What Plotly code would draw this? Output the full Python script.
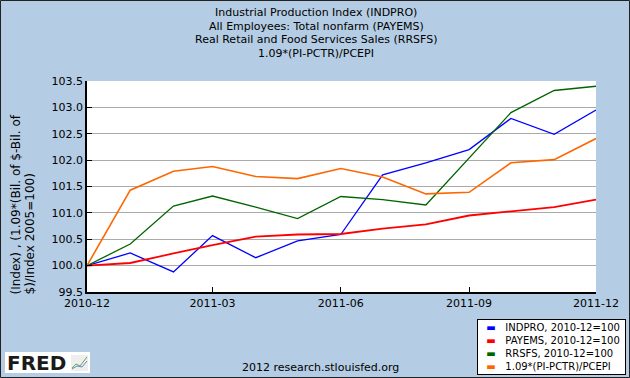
import plotly.graph_objects as go

# ---- data ----
months = ["2010-12-01", "2011-01-01", "2011-02-01", "2011-03-01", "2011-04-01",
          "2011-05-01", "2011-06-01", "2011-07-01", "2011-08-01", "2011-09-01",
          "2011-10-01", "2011-11-01", "2011-12-01"]
indpro = [100.0, 100.24, 99.88, 100.57, 100.15, 100.47, 100.59, 101.72, 101.95,
          102.20, 102.79, 102.49, 102.95]
payems = [100.0, 100.05, 100.23, 100.39, 100.55, 100.59, 100.60, 100.70, 100.78,
          100.95, 101.03, 101.11, 101.25]
rrsfs = [100.0, 100.41, 101.13, 101.32, 101.11, 100.89, 101.31, 101.25, 101.15,
         102.04, 102.90, 103.32, 103.40]
pi_real = [100.0, 101.43, 101.79, 101.88, 101.69, 101.65, 101.84, 101.68, 101.36,
           101.39, 101.95, 102.01, 102.41]

series_names = ["INDPRO, 2010-12=100", "PAYEMS, 2010-12=100",
                "RRSFS, 2010-12=100", "1.09*(PI-PCTR)/PCEPI"]
series_values = [indpro, payems, rrsfs, pi_real]
series_colors = ["#0000ff", "#ff0000", "#006400", "#ff6600"]
series_widths = [1.3, 1.8, 1.3, 1.6]

tick_dates = ["2010-12-01", "2011-03-01", "2011-06-01", "2011-09-01", "2011-12-01"]
tick_labels = ["2010-12", "2011-03", "2011-06", "2011-09", "2011-12"]
y_ticks = [99.5, 100.0, 100.5, 101.0, 101.5, 102.0, 102.5, 103.0, 103.5]

title_lines = ["Industrial Production Index (INDPRO)",
               "All Employees: Total nonfarm (PAYEMS)",
               "Real Retail and Food Services Sales (RRSFS)",
               "1.09*(PI-PCTR)/PCEPI"]
ylabel_lines = ["(Index) , (1.09*(Bil. of $-Bil. of", "$)/Index 2005=100)"]
footer = "2012 research.stlouisfed.org"

# ---- layout geometry ----
W, H = 630, 378
L, R, T, B = 87, 34, 81, 86
PW, PH = W - L - R, H - T - B
BG = "#b4cde4"
FONT = "DejaVu Sans"


def px(x):
    return (x - L) / PW


def py(y):
    return (H - B - y) / PH


fig = go.Figure()
for name, vals, col, w in zip(series_names, series_values, series_colors, series_widths):
    fig.add_trace(go.Scatter(x=months, y=vals, mode="lines", name=name,
                             line=dict(color=col, width=w), showlegend=False))

annotations = []
# title lines
for i, line in enumerate(title_lines):
    annotations.append(dict(text=line, xref="paper", yref="paper",
                            x=px(316), y=py(12.5 + 13.7 * i), xanchor="center",
                            yanchor="middle", showarrow=False,
                            font=dict(family=FONT, size=11, color="black")))
# legend (custom box)
legend_rows = [f"&nbsp;&nbsp;<span style='color:{c}'>▬</span>&nbsp;&nbsp;&nbsp;{n}"
               for n, c in zip(series_names, series_colors)]
legend_rows[0] += "&nbsp;"
annotations.append(dict(text="<br>".join(legend_rows), xref="paper", yref="paper",
                        x=px(477), y=py(318.5), xanchor="left", yanchor="top",
                        align="left", showarrow=False, bgcolor="white",
                        bordercolor="black", borderwidth=1, borderpad=2,
                        font=dict(family=FONT, size=10, color="black")))
# y label lines
for i, line in enumerate(ylabel_lines):
    annotations.append(dict(text=line, xref="paper", yref="paper",
                            x=px(15.5 + 13.5 * i), y=py(297), xanchor="center",
                            yanchor="bottom", textangle=-90, showarrow=False,
                            font=dict(family=FONT, size=12, color="black")))
# footer
annotations.append(dict(text=footer, xref="paper", yref="paper", x=px(320),
                        y=py(367), xanchor="center", yanchor="middle",
                        showarrow=False,
                        font=dict(family=FONT, size=11, color="black")))
# FRED logo text
annotations.append(dict(text="<b>FRED</b>", xref="paper", yref="paper", x=px(5),
                        y=py(363), xanchor="left", yanchor="middle",
                        showarrow=False,
                        font=dict(family=FONT, size=20, color="#1a1a1a")))

shapes = [
    # outer border
    dict(type="rect", xref="paper", yref="paper", x0=px(0.5), x1=px(629.5),
         y0=py(377.5), y1=py(0.5), line=dict(color="#222222", width=1)),
    # logo white box
    dict(type="rect", xref="paper", yref="paper", x0=px(5), x1=px(90),
         y0=py(373), y1=py(352), fillcolor="white", line=dict(width=0),
         layer="below"),
    # logo mini-chart icon
    dict(type="rect", xref="paper", yref="paper", x0=px(71), x1=px(88),
         y0=py(371), y1=py(355), fillcolor="#eeeeee", line=dict(width=0)),
    dict(type="path", xref="paper", yref="paper",
         path=f"M {px(72)},{py(368)} L {px(76)},{py(364)} L {px(80)},{py(366)} L {px(87)},{py(357)}",
         line=dict(color="#66aa44", width=1)),
    dict(type="path", xref="paper", yref="paper",
         path=f"M {px(72)},{py(369)} L {px(77)},{py(366)} L {px(82)},{py(367)} L {px(87)},{py(361)}",
         line=dict(color="#6688cc", width=1)),
]

fig.update_layout(
    width=W, height=H,
    margin=dict(l=L, r=R, t=T, b=B, pad=0),
    paper_bgcolor=BG, plot_bgcolor="white",
    font=dict(family=FONT, size=11, color="black"),
    xaxis=dict(type="date", range=[months[0], months[-1]],
               tickvals=tick_dates, ticktext=tick_labels,
               ticks="inside", ticklen=5, tickcolor="black",
               showline=True, linecolor="black", linewidth=1.5,
               showgrid=False, zeroline=False,
               tickfont=dict(family=FONT, size=11, color="black")),
    yaxis=dict(range=[99.5, 103.5], tickvals=y_ticks,
               ticktext=[f"{v:.1f}" for v in y_ticks],
               ticks="inside", ticklen=5, tickcolor="black",
               showline=True, linecolor="black", linewidth=1.5,
               showgrid=True, gridcolor="#aaaaaa", gridwidth=1, zeroline=False,
               tickfont=dict(family=FONT, size=11, color="black")),
    annotations=annotations,
    shapes=shapes,
    showlegend=False,
)

fig.write_html("out.html", config={"displayModeBar": False},
               post_script="document.body.style.margin='0';document.body.style.padding='0';"
                           "document.documentElement.style.overflow='hidden';")
